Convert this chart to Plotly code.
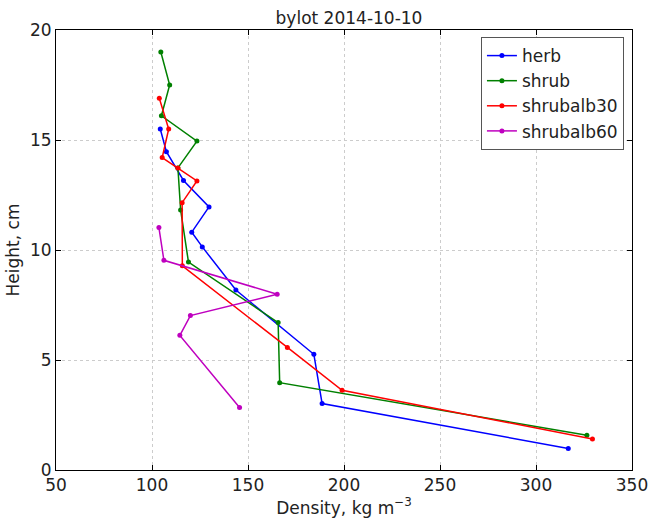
import plotly.graph_objects as go

herb_density = [104.3, 107.5, 116.4, 129.7, 120.7, 126.2, 143.7, 184.3, 188.6, 316.8]
herb_height = [15.5, 14.47, 13.16, 11.96, 10.81, 10.14, 8.18, 5.26, 3.02, 0.98]

shrub_density = [104.6, 109.2, 104.9, 123.4, 113.5, 114.9, 119.0, 165.7, 166.5, 326.5]
shrub_height = [19.0, 17.5, 16.1, 14.95, 13.73, 11.82, 9.45, 6.70, 3.97, 1.58]

alb30_density = [103.8, 108.7, 105.3, 113.5, 123.4, 115.7, 115.8, 170.5, 199.0, 329.4]
alb30_height = [16.9, 15.5, 14.2, 13.73, 13.14, 12.15, 9.28, 5.57, 3.62, 1.41]

alb60_density = [103.6, 106.2, 165.2, 120.0, 114.5, 145.6]
alb60_height = [11.02, 9.53, 7.99, 7.02, 6.12, 2.84]

names = ["herb", "shrub", "shrubalb30", "shrubalb60"]
colors = ["#0000ff", "#008000", "#ff0000", "#bf00bf"]

x_ticks = [50, 100, 150, 200, 250, 300, 350]
y_ticks = [0, 5, 10, 15, 20]

series = [
    (herb_density, herb_height),
    (shrub_density, shrub_height),
    (alb30_density, alb30_height),
    (alb60_density, alb60_height),
]

FONT = "DejaVu Sans"
fig = go.Figure()
for (xs, ys), name, col in zip(series, names, colors):
    fig.add_trace(go.Scatter(
        x=xs, y=ys, name=name, mode="lines+markers",
        line=dict(color=col, width=1.5),
        marker=dict(color=col, size=5),
    ))

axis_common = dict(
    showline=True, linecolor="#000000", linewidth=1, mirror="ticks",
    ticks="inside", ticklen=5, tickcolor="#000000",
    showgrid=True, gridcolor="#cccccc", griddash="dot", gridwidth=1,
    zeroline=False, tickfont=dict(family=FONT, size=17, color="#222222"),
    title_font=dict(family=FONT, size=17, color="#222222"),
)

fig.update_layout(
    width=660, height=523,
    margin=dict(l=56, r=18, t=30, b=43),
    paper_bgcolor="white", plot_bgcolor="white",
    font=dict(family=FONT, size=17, color="#222222"),
    title=dict(text="bylot 2014-10-10", x=(56 + 349 - 56) / 660 + 0.0, xanchor="center",
               y=1 - 18 / 523, yanchor="middle",
               font=dict(family=FONT, size=17, color="#222222")),
    xaxis=dict(range=[50, 350], tickvals=x_ticks, title=dict(text="Density, kg m<sup>\u22123</sup>", standoff=4),
               **axis_common),
    yaxis=dict(range=[0, 20], tickvals=y_ticks, title=dict(text="Height, cm", standoff=6),
               **axis_common),
    legend=dict(x=0.986, y=0.984, xanchor="right", yanchor="top",
                bordercolor="#555555", borderwidth=1, bgcolor="white",
                font=dict(family=FONT, size=17, color="#222222"),
                tracegroupgap=0, itemwidth=30),
    showlegend=True,
)

fig.write_html("out.html")
